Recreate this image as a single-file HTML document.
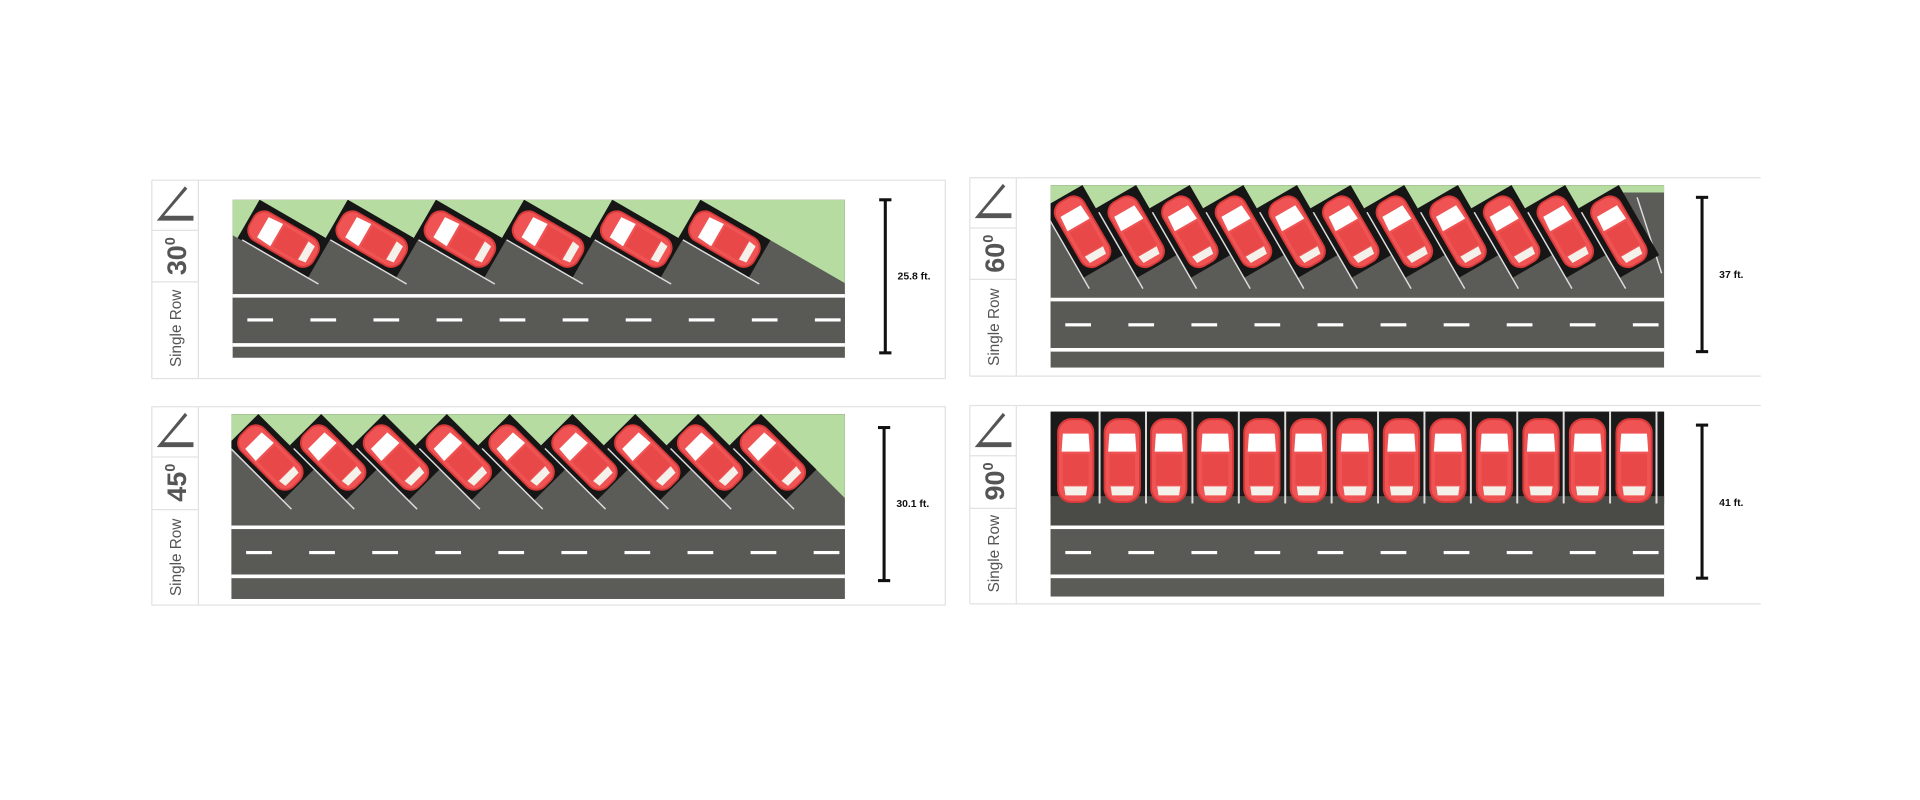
<!DOCTYPE html>
<html><head><meta charset="utf-8"><style>
html,body{margin:0;padding:0;background:#fff;width:1920px;height:800px;overflow:hidden}
svg{display:block}
</style></head><body>
<svg id="s" width="1920" height="800" viewBox="0 0 1568 653" xmlns="http://www.w3.org/2000/svg" font-family="Liberation Sans, sans-serif">
<defs>
<g id="car">
<rect x="-33" y="-14.5" width="66" height="29" rx="11" fill="#d83a3a"/>
<rect x="-31.5" y="-13" width="63" height="26" rx="10" fill="#ef5353"/>
<polygon points="-21,-10 -7,-11 -7,11 -21,10" fill="#fff"/>
<polygon points="20,-9 27,-8 27,8 20,9" fill="#f4f0ea"/>
<rect x="-5" y="-10" width="24" height="20" fill="#e84848"/>
</g>
</defs>
<g id="panels" fill="none" stroke="#e2e2e2" stroke-width="1">
<rect x="124" y="147" width="648" height="162"/>
<line x1="162" y1="147" x2="162" y2="309"/>
<line x1="124" y1="188" x2="162" y2="188"/><line x1="124" y1="230" x2="162" y2="230"/>
<rect x="124" y="332" width="648" height="162"/>
<line x1="162" y1="332" x2="162" y2="494"/>
<line x1="124" y1="373" x2="162" y2="373"/><line x1="124" y1="416" x2="162" y2="416"/>
<line x1="792" y1="145" x2="1438" y2="145"/><line x1="792" y1="307" x2="1438" y2="307"/>
<line x1="792" y1="145" x2="792" y2="307"/><line x1="830" y1="145" x2="830" y2="307"/>
<line x1="792" y1="186" x2="830" y2="186"/><line x1="792" y1="228" x2="830" y2="228"/>
<line x1="792" y1="331" x2="1438" y2="331"/><line x1="792" y1="493" x2="1438" y2="493"/>
<line x1="792" y1="331" x2="792" y2="493"/><line x1="830" y1="331" x2="830" y2="493"/>
<line x1="792" y1="372" x2="830" y2="372"/><line x1="792" y1="415" x2="830" y2="415"/>
</g>
<g fill="#555">
<polygon points="128,180 151,152 153,154 134,176 158,176 158,180"/>
<polygon points="128,365 151,337 153,339 134,361 158,361 158,365"/>
<polygon points="796,178 819,150 821,152 802,174 826,174 826,178"/>
<polygon points="796,365 819,337 821,339 802,361 826,361 826,365"/>
</g>
<g fill="#555" font-weight="bold">
<text transform="translate(152,209) rotate(-90)" font-size="22" text-anchor="middle">30<tspan font-size="12" dy="-9">0</tspan></text>
<text transform="translate(152,394) rotate(-90)" font-size="22" text-anchor="middle">45<tspan font-size="12" dy="-9">0</tspan></text>
<text transform="translate(820,207) rotate(-90)" font-size="22" text-anchor="middle">60<tspan font-size="12" dy="-9">0</tspan></text>
<text transform="translate(820,393) rotate(-90)" font-size="22" text-anchor="middle">90<tspan font-size="12" dy="-9">0</tspan></text>
</g>
<g fill="#555" font-size="12.5">
<text transform="translate(148,268) rotate(-90)" text-anchor="middle">Single Row</text>
<text transform="translate(148,455) rotate(-90)" text-anchor="middle">Single Row</text>
<text transform="translate(816,267) rotate(-90)" text-anchor="middle">Single Row</text>
<text transform="translate(816,452) rotate(-90)" text-anchor="middle">Single Row</text>
</g>
<g id="lots"></g>
<g stroke="#111" stroke-width="2.5">
<line x1="723" y1="163" x2="723" y2="288"/><line x1="718" y1="163" x2="728" y2="163"/><line x1="718" y1="288" x2="728" y2="288"/>
<line x1="722" y1="349" x2="722" y2="474"/><line x1="717" y1="349" x2="727" y2="349"/><line x1="717" y1="474" x2="727" y2="474"/>
<line x1="1390" y1="161" x2="1390" y2="287"/><line x1="1385" y1="161" x2="1395" y2="161"/><line x1="1385" y1="287" x2="1395" y2="287"/>
<line x1="1390" y1="347" x2="1390" y2="472"/><line x1="1385" y1="347" x2="1395" y2="347"/><line x1="1385" y1="472" x2="1395" y2="472"/>
</g>
<g font-size="8.5" font-weight="bold" fill="#111">
<text x="733" y="228">25.8 ft.</text>
<text x="732" y="414">30.1 ft.</text>
<text x="1404" y="227">37 ft.</text>
<text x="1404" y="413">41 ft.</text>
</g>
</svg>
<script>
(function(){
var NS="http://www.w3.org/2000/svg",root=document.getElementById("lots"),cid=0;
function el(t,a,p){var e=document.createElementNS(NS,t);for(var k in a)e.setAttribute(k,a[k]);(p||root).appendChild(e);return e;}
function pts(a){return a.map(function(p){return p[0].toFixed(1)+","+p[1].toFixed(1)}).join(" ");}
function road(x0,x1,top,bot,wl1,wl2,dash){
  var g=el("g",{});
  el("rect",{x:x0,y:top,width:x1-x0,height:bot-top,fill:"#5b5b57"},g);
  el("rect",{x:x0,y:wl1,width:x1-x0,height:3,fill:"#fff"},g);
  el("rect",{x:x0,y:wl2,width:x1-x0,height:3,fill:"#fff"},g);
  el("rect",{x:x0,y:wl1+3,width:x1-x0,height:wl2-wl1-3,fill:"#595955"},g);
  for(var x=x0+12;x+20<x1;x+=51.5)el("rect",{x:x,y:dash-1.2,width:21,height:2.6,fill:"#fff"},g);
  return g;
}
function angled(x0,x1,top,bot,wl1,wl2,dash,th,a0,S,n,L,lastH){
  road(x0,x1,top,bot,wl1,wl2,dash);
  cid++;var cp=el("clipPath",{id:"c"+cid});el("rect",{x:x0,y:top,width:x1-x0,height:wl1-top},cp);
  var g=el("g",{"clip-path":"url(#c"+cid+")"});
  var r=th*Math.PI/180,d=[Math.cos(r),Math.sin(r)],p=[-Math.sin(r),Math.cos(r)],w=S*Math.sin(r);
  function P(A,a,b){return [A[0]+a*p[0]+b*d[0],A[1]+a*p[1]+b*d[1]];}
  var As=[];for(var i=0;i<n;i++)As.push([a0+S*i,top]);
  var Am=[a0-S,top];
  for(var i=-1;i<n-1;i++){var A=i<0?Am:As[i],B=As[i+1];el("polygon",{points:pts([A,B,P(B,w,0)]),fill:"#b6dca2"},g);}
  var Al=As[n-1],t=Math.tan(r);
  if(lastH){el("polygon",{points:pts([Al,[x1,top],[x1,top+lastH],[Al[0]+lastH/t,top+lastH]]),fill:"#b6dca2"},g);
    el("line",{x1:x1-22,y1:top+10,x2:x1-2,y2:top+72,stroke:"#ddd","stroke-width":1.2},g);}
  else el("polygon",{points:pts([Al,[x1,top],[x1,top+(x1-Al[0])*t]]),fill:"#b6dca2"},g);
  for(var i=0;i<n;i++){var A=As[i];
    el("polygon",{points:pts([A,P(A,w,0),P(A,w,L),P(A,0,L)]),fill:"#161616"},g);
    var s=P(A,w-0.5,4),e=P(A,w-0.5,L+10);
    el("line",{x1:s[0],y1:s[1],x2:e[0],y2:e[1],stroke:"#ddd","stroke-width":1.2},g);
    var c=P(A,w/2,L/2);
    el("use",{href:"#car",transform:"translate("+c[0].toFixed(1)+","+c[1].toFixed(1)+") rotate("+th+") scale(0.93,0.95)"},g);
  }
}
angled(190,690,163,292,240,280,261,30,212,72,6,66);
angled(189,690,338,489,429,469,451,45,211,51.3,9,64);
angled(858,1359,151,300,243,284,265,60,884,43.8,11,66,6);
road(858,1359,336,487,429,469,451);
var g=el("g",{});
el("rect",{x:858,y:336,width:501,height:76,fill:"#1a1a1a"},g);
el("rect",{x:858,y:405,width:501,height:24,fill:"#4a4a47"},g);
for(var i=0;i<13;i++){var x=898+37.9*i;el("rect",{x:x-0.8,y:336,width:1.6,height:75,fill:"#ddd"},g);}
for(var i=0;i<13;i++){var cx=878.5+38*i;el("use",{href:"#car",transform:"translate("+cx+",376) rotate(90) scale(1.05,1.05)"},g);}
})();
</script>
</body></html>
